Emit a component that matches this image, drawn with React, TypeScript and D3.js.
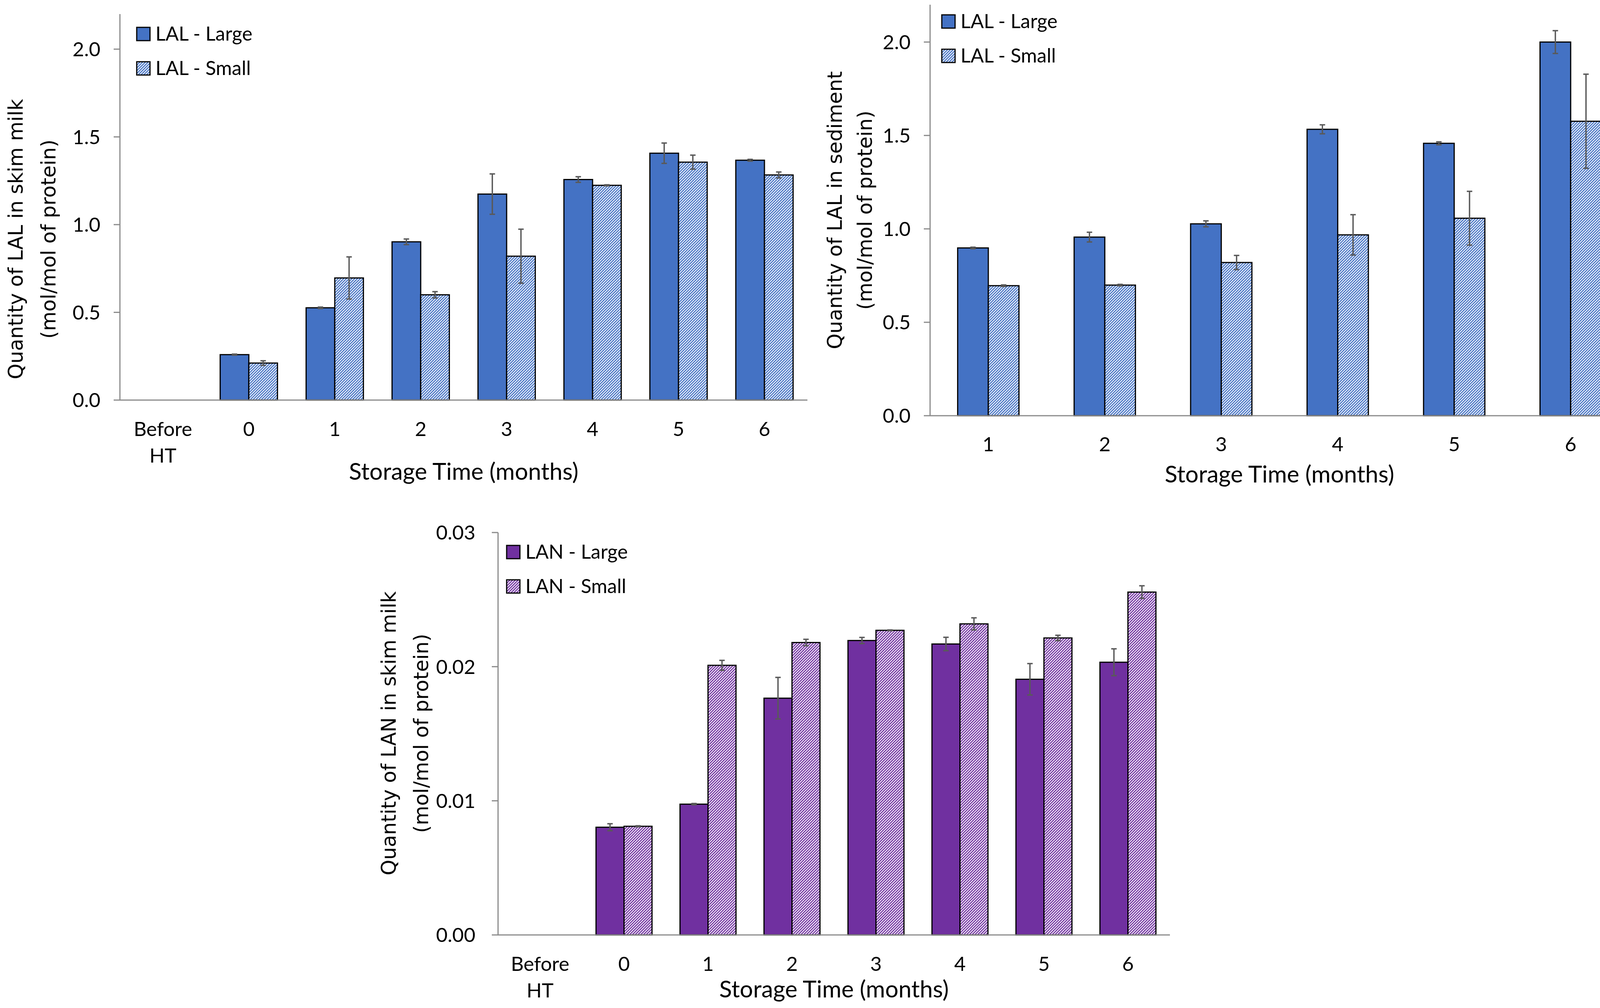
import * as d3 from "d3";

// Categories
const CATS_SKIM = ["Before HT", "0", "1", "2", "3", "4", "5", "6"];
const CATS_SED = ["1", "2", "3", "4", "5", "6"];

// LAL in skim milk (mol/mol of protein)
const LAL_SKIM_LARGE = [null, 0.259, 0.526, 0.902, 1.174, 1.257, 1.407, 1.367];
const LAL_SKIM_LARGE_ERR = [null, 0.003, 0.004, 0.016, 0.115, 0.016, 0.058, 0.005];
const LAL_SKIM_SMALL = [null, 0.211, 0.696, 0.6, 0.82, 1.224, 1.356, 1.283];
const LAL_SKIM_SMALL_ERR = [null, 0.013, 0.12, 0.018, 0.154, 0.003, 0.04, 0.017];

// LAL in sediment
const LAL_SED_LARGE = [0.898, 0.956, 1.027, 1.533, 1.458, 2.0];
const LAL_SED_LARGE_ERR = [0.004, 0.026, 0.016, 0.024, 0.008, 0.061];
const LAL_SED_SMALL = [0.696, 0.699, 0.82, 0.968, 1.057, 1.576];
const LAL_SED_SMALL_ERR = [0.004, 0.004, 0.038, 0.108, 0.144, 0.252];

// LAN in skim milk
const LAN_SKIM_LARGE = [null, 0.00803, 0.00975, 0.01765, 0.02195, 0.02169, 0.01906, 0.02033];
const LAN_SKIM_LARGE_ERR = [null, 0.00026, 0.00005, 0.00155, 0.00023, 0.0005, 0.00117, 0.001];
const LAN_SKIM_SMALL = [null, 0.0081, 0.0201, 0.0218, 0.02271, 0.02319, 0.02214, 0.02556];
const LAN_SKIM_SMALL_ERR = [null, 0.00004, 0.00037, 0.00024, 0.00003, 0.00045, 0.0002, 0.00047];

// Axis ticks
const LAL_TICKS = [0, 0.5, 1, 1.5, 2];
const LAN_TICKS = [0, 0.01, 0.02, 0.03];

const BLUE = "#4472C4";
const PURPLE = "#7030A0";
const AXIS = "#8a8a8a";
const ERR = "#595959";
const FONT = "Lato, 'Open Sans', sans-serif";
const TITLE_FONT = "'DejaVu Sans', Verdana, sans-serif";

type Val = number | null;

interface PanelProps {
  cats: string[];
  large: Val[]; largeErr: Val[];
  small: Val[]; smallErr: Val[];
  color: string; hatch: string;
  legend: [string, string];
  ticks: number[]; fmt: string; yMax: number;
  yTitle: [string, string];
  // layout
  x0: number; x1: number; y0: number; y1: number; gap: number;
  legendX: number; legendY: number;
  tickY: number; tickGap: number; xTitleY: number;
  yTitleX: [number, number]; yTitleY: number;
}

function Panel(p: PanelProps) {
  const x = d3.scaleBand().domain(p.cats).range([p.x0, p.x1]).padding(0);
  const band = x.bandwidth();
  const group = band / (1 + p.gap);
  const inner = d3.scaleBand().domain(["L", "S"]).range([(band - group) / 2, (band + group) / 2]);
  const y = d3.scaleLinear().domain([0, p.yMax]).range([p.y0, p.y1]);
  const fmt = d3.format(p.fmt);
  const bw = inner.bandwidth();

  const series = [
    { key: "L", vals: p.large, errs: p.largeErr, fill: p.color },
    { key: "S", vals: p.small, errs: p.smallErr, fill: `url(#${p.hatch})` },
  ];

  return (
    <g>
      {/* bars */}
      {series.map((s) => (
        <g key={s.key}>
          {p.cats.map((c, i) => {
            const v = s.vals[i];
            if (v == null) return null;
            const bx = (x(c) ?? 0) + (inner(s.key) ?? 0);
            return (
              <rect key={c} x={bx} y={y(v)} width={bw} height={y(0) - y(v)}
                fill={s.fill} stroke="#000" strokeWidth={3} />
            );
          })}
        </g>
      ))}

      {/* error bars */}
      {series.map((s) => (
        <g key={`e${s.key}`} stroke={ERR} strokeWidth={3.5}>
          {p.cats.map((c, i) => {
            const v = s.vals[i];
            const e = s.errs[i];
            if (v == null || e == null) return null;
            const cx = (x(c) ?? 0) + (inner(s.key) ?? 0) + bw / 2;
            const ya = y(v + e), yb = y(v - e);
            return (
              <g key={c}>
                <line x1={cx} x2={cx} y1={ya} y2={yb} />
                <line x1={cx - 7} x2={cx + 7} y1={ya} y2={ya} />
                <line x1={cx - 7} x2={cx + 7} y1={yb} y2={yb} />
              </g>
            );
          })}
        </g>
      ))}

      {/* axes */}
      <line x1={p.x0} x2={p.x0} y1={p.y0} y2={p.y1} stroke={AXIS} strokeWidth={3} />
      <line x1={p.x0} x2={p.x1} y1={p.y0} y2={p.y0} stroke={AXIS} strokeWidth={3} />
      {p.ticks.map((t) => (
        <g key={t}>
          <line x1={p.x0 - 16} x2={p.x0} y1={y(t)} y2={y(t)} stroke={AXIS} strokeWidth={3} />
          <text x={p.x0 - p.tickGap} y={y(t)} dy="0.36em" textAnchor="end"
            fontSize={51} fontFamily={FONT} fill="#000">{fmt(t)}</text>
        </g>
      ))}

      {/* category labels */}
      {p.cats.map((c) => (
        <text key={c} x={(x(c) ?? 0) + band / 2} y={p.tickY} textAnchor="middle"
          fontSize={51} fontFamily={FONT} fill="#000">
          {c.split(" ").map((w, j) => (
            <tspan key={w} x={(x(c) ?? 0) + band / 2} dy={j === 0 ? 0 : 68}>{w}</tspan>
          ))}
        </text>
      ))}

      {/* axis titles */}
      <text x={(p.x0 + p.x1) / 2} y={p.xTitleY} textAnchor="middle"
        fontSize={60} fontFamily={FONT} fill="#000">Storage Time (months)</text>
      {p.yTitle.map((t, j) => (
        <text key={t} transform={`translate(${p.yTitleX[j]},${p.yTitleY}) rotate(-90)`}
          dy="0.35em" textAnchor="middle" fontSize={51} fontFamily={TITLE_FONT} fill="#000">{t}</text>
      ))}

      {/* legend */}
      {p.legend.map((l, j) => (
        <g key={l} transform={`translate(${p.legendX},${p.legendY + j * 88})`}>
          <rect x={0} y={0} width={34} height={34} fill={j === 0 ? p.color : `url(#${p.hatch})`}
            stroke="#000" strokeWidth={3} />
          <text x={48} y={34} fontSize={50} fontFamily={FONT} fill="#000">{l}</text>
        </g>
      ))}
    </g>
  );
}

export default function App() {
  return (
    <svg width={4186} height={2580} style={{ position: "absolute", left: 0, top: 0, background: "#fff" }}>
      <defs>
        <pattern id="hatch-blue" width={5} height={5} patternUnits="userSpaceOnUse" patternTransform="rotate(45)">
          <rect width={5} height={5} fill="#fff" />
          <rect width={2.8} height={5} fill={BLUE} />
        </pattern>
        <pattern id="hatch-purple" width={5} height={5} patternUnits="userSpaceOnUse" patternTransform="rotate(45)">
          <rect width={5} height={5} fill="#fff" />
          <rect width={2.8} height={5} fill={PURPLE} />
        </pattern>
      </defs>
      <rect width={4186} height={2580} fill="#fff" />

      <Panel cats={CATS_SKIM}
        large={LAL_SKIM_LARGE} largeErr={LAL_SKIM_LARGE_ERR}
        small={LAL_SKIM_SMALL} smallErr={LAL_SKIM_SMALL_ERR}
        color={BLUE} hatch="hatch-blue" legend={["LAL - Large", "LAL - Small"]}
        ticks={LAL_TICKS} fmt=".1f" yMax={2.2}
        yTitle={["Quantity of LAL in skim milk", "(mol/mol of protein)"]}
        x0={307} x1={2067} y0={1024} y1={36} gap={0.5}
        legendX={350} legendY={70} tickY={1116} tickGap={50} xTitleY={1228}
        yTitleX={[40, 124]} yTitleY={612} />

      <Panel cats={CATS_SED}
        large={LAL_SED_LARGE} largeErr={LAL_SED_LARGE_ERR}
        small={LAL_SED_SMALL} smallErr={LAL_SED_SMALL_ERR}
        color={BLUE} hatch="hatch-blue" legend={["LAL - Large", "LAL - Small"]}
        ticks={LAL_TICKS} fmt=".1f" yMax={2.2}
        yTitle={["Quantity of LAL in sediment", "(mol/mol of protein)"]}
        x0={2381} x1={4170} y0={1064} y1={12} gap={0.9}
        legendX={2411} legendY={38} tickY={1155} tickGap={50} xTitleY={1235}
        yTitleX={[2137, 2214]} yTitleY={538} />

      <Panel cats={CATS_SKIM}
        large={LAN_SKIM_LARGE} largeErr={LAN_SKIM_LARGE_ERR}
        small={LAN_SKIM_SMALL} smallErr={LAN_SKIM_SMALL_ERR}
        color={PURPLE} hatch="hatch-purple" legend={["LAN - Large", "LAN - Small"]}
        ticks={LAN_TICKS} fmt=".2f" yMax={0.03}
        yTitle={["Quantity of LAN in skim milk", "(mol/mol of protein)"]}
        x0={1275} x1={2995} y0={2393} y1={1363} gap={0.5}
        legendX={1297} legendY={1396} tickY={2485} tickGap={58} xTitleY={2553}
        yTitleX={[995, 1078]} yTitleY={1877} />
    </svg>
  );
}
